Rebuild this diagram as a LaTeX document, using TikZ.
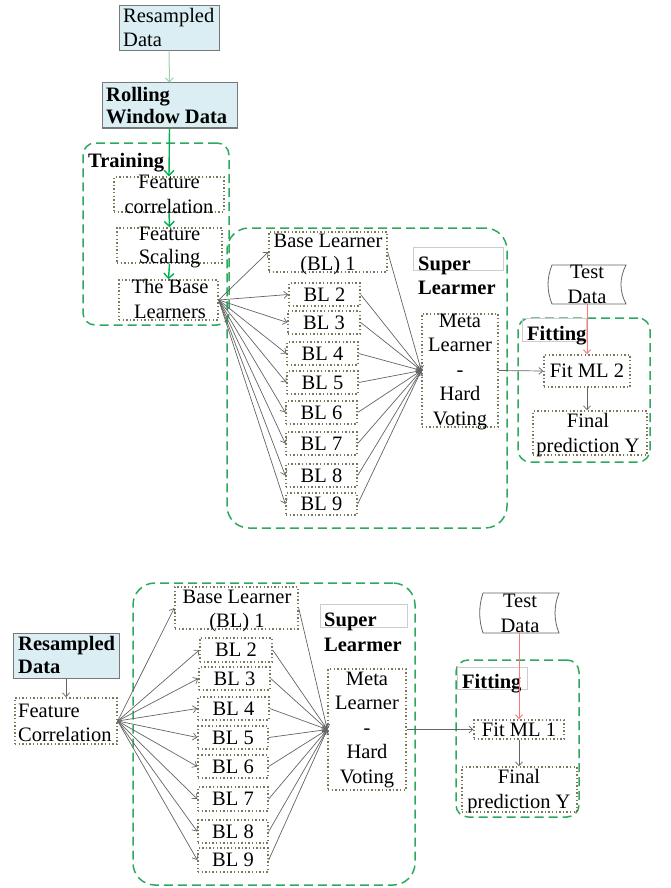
\documentclass[tikz,border=0pt]{standalone}
\usepackage{fontspec}
\setmainfont{Liberation Serif}
\usetikzlibrary{arrows.meta}
\newcommand{\fz}[1]{\fontsize{20.5}{#1}\selectfont}
\newcommand{\ml}[2][c]{\begin{tabular}{@{}#1@{}}#2\end{tabular}}
\newcommand{\bx}[7]{\node[#2, minimum width={#5-#3}, minimum height={#6-#4}] (#1) at ({(#3+#5)/2},{(#4+#6)/2}) {#7};}
\definecolor{gdc}{RGB}{46,168,92}
\definecolor{dotc}{RGB}{120,120,90}
\definecolor{arrc}{RGB}{100,100,100}
\definecolor{lblue}{RGB}{219,238,243}
\definecolor{bordc}{RGB}{120,120,120}
\definecolor{grc}{RGB}{0,176,80}
\definecolor{lgrc}{RGB}{150,210,170}
\definecolor{redc}{RGB}{250,120,120}
\definecolor{lgray}{RGB}{205,205,205}
\tikzset{
  dotbox/.style={draw=dotc, line width=1.4pt, dash pattern=on 1.4pt off 2.2pt, inner sep=0pt, font=\fz{24.5}},
  bluebox/.style={draw=bordc, fill=lblue, line width=1pt, inner sep=0pt},
  gbox/.style={draw=gdc, line width=1.5pt, dash pattern=on 9pt off 5pt, inner sep=0pt},
  txt/.style={inner sep=0pt, font=\fz{24.5}},
  arr/.style={draw=arrc, line width=0.7pt, -{Straight Barb[length=4pt,width=7pt]}},
  larr/.style={draw=lgrc, line width=1pt, -{Straight Barb[length=4pt,width=8pt]}},
  garr/.style={draw=grc, line width=1.4pt, -{Straight Barb[length=5pt,width=10pt]}},
  rarr/.style={draw=redc, line width=0.9pt, -{Straight Barb[length=4pt,width=7pt]}},
  lblbox/.style={draw=lgray, line width=0.8pt},
  tape/.style={draw=arrc, line width=0.8pt}
}
\begin{document}
\begin{tikzpicture}[x=1pt,y=-1pt]
\useasboundingbox (0,0) rectangle (671,888);
% ---------------- top diagram ----------------
\bx{train}{gbox, rounded corners=12pt}{83}{143}{229}{325}{}
\bx{sup1}{gbox, rounded corners=22pt}{227}{228}{507}{528}{}
\bx{fit1}{gbox, rounded corners=12pt}{518}{318}{650}{462}{}

\bx{rs1}{bluebox}{119}{6}{219}{51}{}
\node[txt, anchor=west, font=\fz{24}] (rs1t) at (123,30.2) {\ml[l]{Resampled\\Data}};
\bx{rw}{bluebox}{102}{83}{237}{128}{}
\node[txt, anchor=west, font=\fz{22}\bfseries] (rwt) at (106,108.6) {\ml[l]{Rolling\\Window Data}};
\node[txt, anchor=base west, font=\fz{24}\bfseries] (traint) at (88,167) {Training};
\bx{fc}{dotbox}{114}{177}{224}{212}{}
\node[txt, font=\fz{25}] (fct) at (169,195.5) {\ml{Feature\\correlation}};
\bx{fs}{dotbox}{117}{228}{222}{263}{}
\node[txt, font=\fz{23}] (fst) at (169.5,246.9) {\ml{Feature\\Scaling}};
\bx{tbl}{dotbox}{119}{280}{218}{320}{}
\node[txt, font=\fz{25}] (tblt) at (170,300.5) {\ml{The Base\\Learners}};

\bx{a1}{dotbox}{269}{232}{387}{272}{}
\node[txt, font=\fz{23}] (a1t) at (328,253.9) {\ml{Base Learner\\(BL) 1}};
\bx{a2}{dotbox}{289}{283}{360}{306}{BL 2}
\bx{a3}{dotbox}{288}{311}{360}{334}{BL 3}
\bx{a4}{dotbox}{287}{342}{358}{365}{BL 4}
\bx{a5}{dotbox}{287}{371}{358}{394}{BL 5}
\bx{a6}{dotbox}{286}{401}{357}{424}{BL 6}
\bx{a7}{dotbox}{286}{432}{357}{455}{BL 7}
\bx{a8}{dotbox}{286}{464}{357}{487}{BL 8}
\bx{a9}{dotbox}{286}{493}{357}{515}{BL 9}

\draw[lblbox] (413,247) rectangle (503,270);
\node[txt, anchor=west, font=\fz{24}\bfseries] (sl1) at (418,277.2) {\ml[l]{Super\\Learmer}};
\bx{m1}{dotbox}{422}{314}{498}{427}{}
\node[txt] (m1t) at (460,371.1) {\ml{Meta\\Learner\\-\\Hard\\Voting}};

\draw[tape] (552,265) -- (626,265) .. controls (619.3,278) and (619.3,291) .. (626,304)
  -- (552,304) .. controls (546.7,291) and (546.7,278) .. (552,265) -- cycle;
\node[txt, font=\fz{25}] (td1) at (587,285.5) {\ml{Test\\Data}};
\coordinate (td1b) at (587,304);

\draw[lblbox] (522,318) rectangle (586,341);
\node[txt, anchor=base west, font=\fz{24}\bfseries] (fit1t) at (527,340) {Fitting};
\bx{f1}{dotbox}{544}{355}{630}{387}{Fit ML 2}
\bx{y1}{dotbox}{533}{411}{647}{455}{}
\node[txt, font=\fz{25}] (y1t) at (588,434.5) {\ml{Final\\prediction Y}};

\draw[larr] (rs1.south) -- (rw.north);
\draw[garr] (rw.south) -- (fc.north);
\draw[garr] (fc.south) -- (fs.north);
\draw[garr] (fs.south) -- (tbl.north);
\foreach \i in {1,...,9}{
  \draw[arr] (tbl.east) -- (a\i.west);
  \draw[arr] (a\i.east) -- (m1.west);
}
\draw[arr] (m1.east) -- (f1.west);
\draw[rarr] (td1b) -- (f1.north);
\draw[arr] (f1.south) -- (f1.south |- y1.north);

% ---------------- bottom diagram ----------------
\bx{sup2}{gbox, rounded corners=22pt}{133}{583}{415}{885}{}
\bx{fit2}{gbox, rounded corners=12pt}{456}{660}{579}{817}{}

\bx{rs2}{bluebox}{13}{633}{119}{678}{}
\node[txt, anchor=west, font=\fz{23}\bfseries] (rs2t) at (18,656.9) {\ml[l]{Resampled\\Data}};
\bx{fcb}{dotbox}{15}{698}{117}{744}{}
\node[txt, anchor=west, font=\fz{24}] (fcbt) at (18,724.2) {\ml[l]{Feature\\Correlation}};

\bx{b1}{dotbox}{175}{587}{298}{629}{}
\node[txt, font=\fz{24}] (b1t) at (237,610.2) {\ml{Base Learner\\(BL) 1}};
\bx{b2}{dotbox}{200}{638}{272}{662}{BL 2}
\bx{b3}{dotbox}{199}{667}{270}{690}{BL 3}
\bx{b4}{dotbox}{198}{697}{269}{720}{BL 4}
\bx{b5}{dotbox}{198}{726}{268}{749}{BL 5}
\bx{b6}{dotbox}{198}{755}{268}{778}{BL 6}
\bx{b7}{dotbox}{198}{787}{268}{811}{BL 7}
\bx{b8}{dotbox}{198}{820}{268}{843}{BL 8}
\bx{b9}{dotbox}{198}{848}{268}{872}{BL 9}

\draw[lblbox] (320,604) rectangle (407,627);
\node[txt, anchor=west, font=\fz{25}\bfseries] (sl2) at (324,633.5) {\ml[l]{Super\\Learmer}};
\bx{m2}{dotbox}{328}{669}{406}{790}{}
\node[txt] (m2t) at (367,729.1) {\ml{Meta\\Learner\\-\\Hard\\Voting}};

\draw[tape] (483,593) -- (559,593) .. controls (553.7,606) and (553.7,620) .. (559,633)
  -- (483,633) .. controls (478.6,620) and (478.6,606) .. (483,593) -- cycle;
\node[txt, font=\fz{25}] (td2) at (520,614.5) {\ml{Test\\Data}};
\coordinate (td2b) at (519,633);

\draw[lblbox] (457,667) rectangle (527,689);
\node[txt, anchor=base west, font=\fz{24}\bfseries] (fit2t) at (462,688) {Fitting};
\bx{f2}{dotbox}{474}{720}{564}{739}{Fit ML 1}
\bx{y2}{dotbox}{462}{767}{577}{812}{}
\node[txt, font=\fz{25}] (y2t) at (519,790.5) {\ml{Final\\prediction Y}};

\draw[arr] (rs2.south) -- (fcb.north);
\foreach \i in {1,...,9}{
  \draw[arr] (fcb.east) -- (b\i.west);
  \draw[arr] (b\i.east) -- (m2.west);
}
\draw[arr] (m2.east) -- (f2.west);
\draw[rarr] (td2b) -- (td2b |- f2.north);
\draw[arr] (td2b |- f2.south) -- (td2b |- y2.north);
\end{tikzpicture}
\end{document}
